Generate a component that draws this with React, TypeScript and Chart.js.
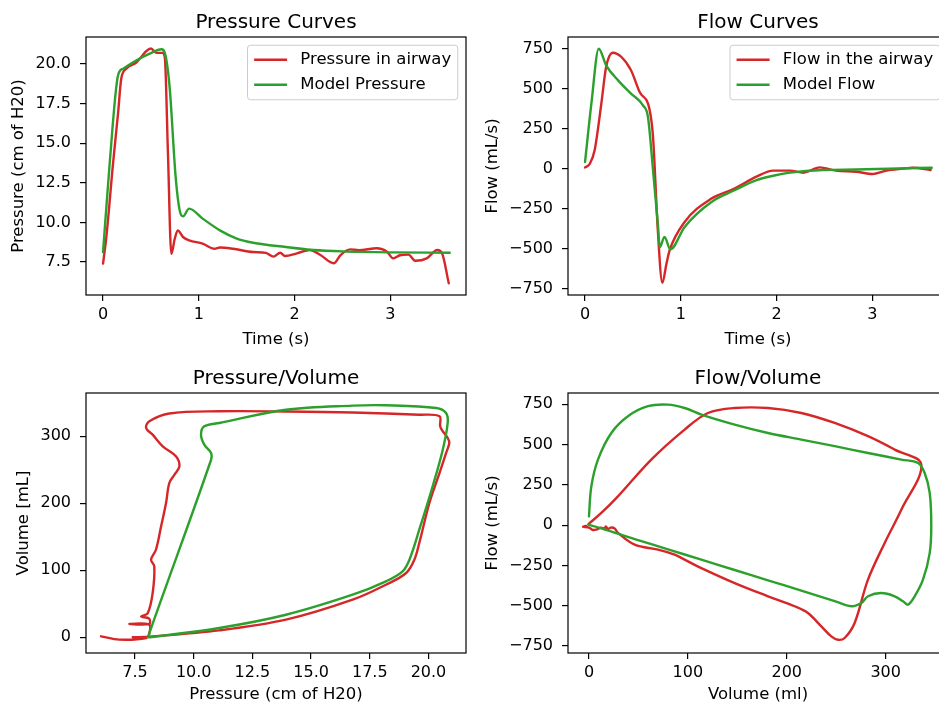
import React, { useEffect, useRef } from 'react';
import { Chart, registerables } from 'chart.js';

Chart.register(...registerables);

const FONT = "'DejaVu Sans', 'Liberation Sans', sans-serif";
const RED = '#d62728';
const GREEN = '#2ca02c';

// ---------- Pressure curves (time in s, pressure in cm H2O) ----------
const airwayPressureTime = [0, 0.035, 0.104, 0.157, 0.19, 0.243, 0.35, 0.45, 0.5, 0.56, 0.62, 0.645, 0.678, 0.713, 0.75, 0.78, 0.835, 0.9, 1.04, 1.165, 1.22, 1.357, 1.566, 1.7, 1.78, 1.85, 1.9, 2.025, 2.16, 2.27, 2.41, 2.48, 2.58, 2.67, 2.86, 2.965, 3.03, 3.1, 3.19, 3.26, 3.38, 3.49, 3.54, 3.61];
const airwayPressure = [7.4, 9.1, 13.7, 16.9, 19.07, 19.7, 20.1, 20.8, 20.97, 20.7, 20.7, 20.4, 14.3, 8.02, 9.0, 9.5, 9.08, 8.87, 8.66, 8.34, 8.42, 8.34, 8.13, 8.08, 7.84, 8.09, 7.88, 8.05, 8.26, 7.94, 7.42, 7.94, 8.3, 8.25, 8.37, 8.15, 7.73, 7.93, 7.97, 7.58, 7.73, 8.26, 8.05, 6.16];
const modelPressureTime = [0, 0.069, 0.157, 0.21, 0.35, 0.487, 0.61, 0.645, 0.695, 0.758, 0.8, 0.835, 0.898, 1.04, 1.22, 1.39, 1.566, 1.91, 2.2, 2.5, 3.0, 3.62];
const modelPressure = [8.13, 13.7, 19.29, 19.7, 20.23, 20.65, 20.93, 20.7, 18.55, 12.87, 10.76, 10.38, 10.87, 10.24, 9.5, 9.0, 8.72, 8.45, 8.26, 8.17, 8.11, 8.09];

// ---------- Flow curves (time in s, flow in mL/s) ----------
const airwayFlowTime = [0, 0.05, 0.1, 0.17, 0.22, 0.29, 0.38, 0.48, 0.57, 0.675, 0.71, 0.76, 0.807, 0.85, 0.883, 1.04, 1.32, 1.56, 1.79, 1.965, 2.14, 2.28, 2.45, 2.62, 2.83, 3.0, 3.15, 3.32, 3.42, 3.61];
const airwayFlow = [10, 33, 117, 408, 637, 727, 700, 617, 481, 367, 200, -383, -712, -592, -508, -331, -185, -123, -48, -10, -10, -23, 10, -10, -17, -31, -10, 2, 8, -6];
const modelFlowTime = [0, 0.066, 0.143, 0.22, 0.345, 0.48, 0.605, 0.657, 0.71, 0.76, 0.78, 0.83, 0.89, 1.04, 1.32, 1.56, 1.79, 1.965, 2.14, 2.48, 2.83, 3.17, 3.62];
const modelFlow = [44, 408, 752, 648, 554, 471, 398, 325, -8, -342, -488, -425, -502, -362, -206, -133, -69, -42, -23, -6, -3, 2, 8];

// ---------- Pressure / Volume loops ----------
const pvAirwayPressure = [7.4, 8.1, 11.09, 13.93, 16.77, 18.19, 19.05, 19.4, 19.61, 20.04, 20.47, 20.75, 20.89, 20.82, 20.61, 20.5, 20.47, 19.61, 16.77, 13.93, 11.09, 8.96, 8.11, 7.97, 8.25, 8.68, 9.25, 9.39, 9.18, 8.96, 8.82, 8.61, 8.39, 8.18, 8.32, 8.25, 8.04, 7.76, 8.1, 8.1, 7.26, 8.1, 8.11, 7.97, 6.83, 6.05];
const pvAirwayVolume = [0, 1, 10.4, 26.3, 56.1, 78.5, 96, 115.8, 140.7, 200.4, 245, 275, 290, 297.5, 307.5, 315, 330, 332.2, 335.5, 337, 337.3, 334, 322.4, 312.4, 302.4, 285, 270, 255, 242.7, 230.3, 200.4, 165.7, 130.7, 115.8, 106, 66, 36, 31, 28, 20, 20, 19, 6.4, -1, -3.5, 1.5];
const pvModelPressure = [8.13, 11.09, 13.93, 16.77, 18.19, 18.9, 19.19, 19.61, 20.18, 20.61, 20.82, 20.75, 20.33, 18.19, 16.77, 13.93, 11.09, 10.45, 10.31, 10.45, 10.74, 10.74, 8.11, 8.09];
const pvModelVolume = [0, 13.9, 33.7, 63.6, 83.6, 98.5, 115.8, 160.6, 225.4, 280, 319.9, 334.8, 342.2, 346.3, 345.8, 339.7, 319.9, 314.9, 302.4, 287.5, 275, 265, 6.4, 0];

// ---------- Flow / Volume loops ----------
const fvAirwayVolume = [0, 12.5, 29.3, 63, 96.7, 120.3, 147.3, 181, 214.7, 248.4, 282.1, 309.1, 336, 315.8, 299, 282.1, 268.6, 258.5, 251.8, 245, 234.9, 221.4, 208, 181, 147.3, 113.6, 96.7, 86.6, 69.8, 46.2, 29.3, 25.9, 22, 19.2, 17, 15.8, 12, 9, 4, 0, -6, -3];
const fvAirwayFlow = [10, 76, 179, 407, 593, 696, 727, 727, 696, 634, 552, 469, 376, 96, -110, -338, -607, -700, -711, -690, -628, -545, -503, -441, -359, -266, -214, -183, -152, -121, -48, -20, -15, -24, -8, -20, -15, -24, -30, -15, -10, -5];
const fvModelVolume = [0, 2.4, 9.1, 22.6, 39.4, 59.7, 79.9, 96.7, 113.6, 147.3, 181, 214.7, 248.4, 282.1, 315.8, 332.7, 339.4, 344.5, 346.1, 344.5, 337.7, 329.3, 322.5, 317.5, 309.1, 295.6, 282.1, 275.4, 265.2, 248.4, 214.7, 181, 147.3, 113.6, 79.9, 46.2, 12.5, -1];
const fvModelFlow = [55, 241, 407, 572, 676, 738, 748, 727, 686, 624, 572, 531, 490, 448, 407, 386, 324, 200, -7, -173, -338, -441, -493, -472, -441, -421, -441, -483, -503, -471, -406, -342, -278, -214, -150, -86, -20, 3];

// ---------- Tick values and labels ----------
const timeTicks = [0, 1, 2, 3];
const timeTickLabels = ['0', '1', '2', '3'];
const pressureTicks = [7.5, 10, 12.5, 15, 17.5, 20];
const pressureTickLabels = ['7.5', '10.0', '12.5', '15.0', '17.5', '20.0'];
const flowTicks = [-750, -500, -250, 0, 250, 500, 750];
const flowTickLabels = ['\u2212750', '\u2212500', '\u2212250', '0', '250', '500', '750'];
const volumeTicks = [0, 100, 200, 300];
const volumeTickLabels = ['0', '100', '200', '300'];

type Pt = { x: number; y: number };
const zip = (xs: number[], ys: number[]): Pt[] => xs.map((x, i) => ({ x, y: ys[i] }));

interface Series { label: string; color: string; data: Pt[]; order: number }
interface PanelSpec {
  key: string;
  canvas: { left: number; top: number; width: number; height: number };
  area: { l: number; t: number; r: number; b: number };
  title: string;
  titleBaseline: number;
  xLabel: string;
  yLabel: string;
  xLabelY: number;
  yLabelX: number;
  xRange: [number, number];
  yRange: [number, number];
  xTicks: number[];
  xTickLabels: string[];
  yTicks: number[];
  yTickLabels: string[];
  series: Series[];
  legend: boolean;
  monotone: boolean;
}

const TICK_SIZE = 16;
const LABEL_SIZE = 16.5;
const TITLE_SIZE = 20;
const LEGEND_SIZE = 16.5;
const LINE_W = 2.4;

const panels: PanelSpec[] = [
  {
    key: 'pressure',
    canvas: { left: 0, top: 0, width: 470, height: 360 },
    area: { l: 86, t: 37, r: 466, b: 295 },
    title: 'Pressure Curves',
    titleBaseline: 27.8,
    xLabel: 'Time (s)',
    yLabel: 'Pressure (cm of H20)',
    xLabelY: 340,
    yLabelX: 18.3,
    xRange: [-0.178, 3.79],
    yRange: [5.42, 21.7],
    xTicks: timeTicks,
    xTickLabels: timeTickLabels,
    yTicks: pressureTicks,
    yTickLabels: pressureTickLabels,
    series: [
      { label: 'Pressure in airway', color: RED, data: zip(airwayPressureTime, airwayPressure), order: 1 },
      { label: 'Model Pressure', color: GREEN, data: zip(modelPressureTime, modelPressure), order: 0 },
    ],
    legend: true,
    monotone: true,
  },
  {
    key: 'flow',
    canvas: { left: 470, top: 0, width: 490, height: 360 },
    area: { l: 568, t: 37, r: 948, b: 295 },
    title: 'Flow Curves',
    titleBaseline: 27.8,
    xLabel: 'Time (s)',
    yLabel: 'Flow (mL/s)',
    xLabelY: 340,
    yLabelX: 492.7,
    xRange: [-0.178, 3.79],
    yRange: [-787.5, 825],
    xTicks: timeTicks,
    xTickLabels: timeTickLabels,
    yTicks: flowTicks,
    yTickLabels: flowTickLabels,
    series: [
      { label: 'Flow in the airway', color: RED, data: zip(airwayFlowTime, airwayFlow), order: 1 },
      { label: 'Model Flow', color: GREEN, data: zip(modelFlowTime, modelFlow), order: 0 },
    ],
    legend: true,
    monotone: true,
  },
  {
    key: 'pv',
    canvas: { left: 0, top: 360, width: 470, height: 346 },
    area: { l: 86, t: 393, r: 466, b: 653 },
    title: 'Pressure/Volume',
    titleBaseline: 384,
    xLabel: 'Pressure (cm of H20)',
    yLabel: 'Volume [mL]',
    xLabelY: 695,
    yLabelX: 23.3,
    xRange: [5.41, 21.6],
    yRange: [-23.4, 364.6],
    xTicks: pressureTicks,
    xTickLabels: pressureTickLabels,
    yTicks: volumeTicks,
    yTickLabels: volumeTickLabels,
    series: [
      { label: 'Pressure in airway', color: RED, data: zip(pvAirwayPressure, pvAirwayVolume), order: 1 },
      { label: 'Model Pressure', color: GREEN, data: zip(pvModelPressure, pvModelVolume), order: 0 },
    ],
    legend: false,
    monotone: false,
  },
  {
    key: 'fv',
    canvas: { left: 470, top: 360, width: 490, height: 346 },
    area: { l: 568, t: 393, r: 948, b: 653 },
    title: 'Flow/Volume',
    titleBaseline: 384,
    xLabel: 'Volume (ml)',
    yLabel: 'Flow (mL/s)',
    xLabelY: 695,
    yLabelX: 492.7,
    xRange: [-21.2, 363],
    yRange: [-793, 820],
    xTicks: volumeTicks,
    xTickLabels: volumeTickLabels,
    yTicks: flowTicks,
    yTickLabels: flowTickLabels,
    series: [
      { label: 'Flow in the airway', color: RED, data: zip(fvAirwayVolume, fvAirwayFlow), order: 1 },
      { label: 'Model Flow', color: GREEN, data: zip(fvModelVolume, fvModelFlow), order: 0 },
    ],
    legend: false,
    monotone: false,
  },
];

function buildConfig(spec: PanelSpec): any {
  const c = spec.canvas;
  const labelLH = LABEL_SIZE * 1.2;
  const xBottom = spec.xLabelY + labelLH / 2;
  const padTop = spec.area.t - c.top;
  const padRight = c.left + c.width - spec.area.r;
  const padBottom = c.top + c.height - xBottom;
  const xAxisH = xBottom - spec.area.b;
  const yAxisW = spec.area.l - c.left;
  const yTitlePad = spec.yLabelX - c.left - labelLH / 2;

  const tickFont = { family: FONT, size: TICK_SIZE };
  const labelFont = { family: FONT, size: LABEL_SIZE };
  const gridOpts = { drawOnChartArea: false, drawTicks: true, tickLength: 6, color: '#000', lineWidth: 1.2 };

  const framePlugin = {
    id: 'frame_' + spec.key,
    afterDatasetsDraw(chart: any) {
      const { ctx, chartArea } = chart;
      ctx.save();
      ctx.strokeStyle = '#000';
      ctx.lineWidth = 1.2;
      ctx.strokeRect(chartArea.left, chartArea.top, chartArea.right - chartArea.left, chartArea.bottom - chartArea.top);
      ctx.restore();
    },
  };

  const titlePlugin = {
    id: 'ttl_' + spec.key,
    afterDraw(chart: any) {
      const { ctx, chartArea } = chart;
      ctx.save();
      ctx.font = `${TITLE_SIZE}px ${FONT}`;
      ctx.fillStyle = '#000';
      ctx.textAlign = 'center';
      ctx.textBaseline = 'alphabetic';
      ctx.fillText(spec.title, (chartArea.left + chartArea.right) / 2, spec.titleBaseline - c.top);
      ctx.restore();
    },
  };

  const legendPlugin = {
    id: 'lgd_' + spec.key,
    afterDatasetsDraw(chart: any) {
      if (!spec.legend) return;
      const { ctx, chartArea } = chart;
      const fs = LEGEND_SIZE;
      ctx.save();
      ctx.font = `${fs}px ${FONT}`;
      const textW = Math.max(...spec.series.map((s) => ctx.measureText(s.label).width));
      const pad = 0.4 * fs;
      const handle = 2 * fs;
      const htp = 0.8 * fs;
      const w = pad + handle + htp + textW + pad;
      const h = 54.5;
      const right = chartArea.right - 0.5 * fs;
      const top = chartArea.top + 0.5 * fs;
      const left = right - w;
      const r = 3;
      ctx.beginPath();
      ctx.moveTo(left + r, top);
      ctx.lineTo(right - r, top);
      ctx.arcTo(right, top, right, top + r, r);
      ctx.lineTo(right, top + h - r);
      ctx.arcTo(right, top + h, right - r, top + h, r);
      ctx.lineTo(left + r, top + h);
      ctx.arcTo(left, top + h, left, top + h - r, r);
      ctx.lineTo(left, top + r);
      ctx.arcTo(left, top, left + r, top, r);
      ctx.closePath();
      ctx.fillStyle = 'rgba(255,255,255,0.8)';
      ctx.fill();
      ctx.strokeStyle = '#cccccc';
      ctx.lineWidth = 1;
      ctx.stroke();
      spec.series.forEach((s, i) => {
        const cy = top + 14.5 + i * 25;
        ctx.beginPath();
        ctx.moveTo(left + pad, cy);
        ctx.lineTo(left + pad + handle, cy);
        ctx.strokeStyle = s.color;
        ctx.lineWidth = LINE_W;
        ctx.stroke();
        ctx.fillStyle = '#000';
        ctx.textAlign = 'left';
        ctx.textBaseline = 'middle';
        ctx.fillText(s.label, left + pad + handle + htp, cy);
      });
      ctx.restore();
    },
  };

  return {
    type: 'line',
    data: {
      datasets: spec.series.map((s) => ({
        label: s.label,
        data: s.data,
        borderColor: s.color,
        backgroundColor: s.color,
        borderWidth: LINE_W,
        borderJoinStyle: 'round',
        borderCapStyle: 'round',
        pointRadius: 0,
        fill: false,
        order: s.order,
        tension: spec.monotone ? 0 : 0.35,
        cubicInterpolationMode: spec.monotone ? 'monotone' : 'default',
      })),
    },
    options: {
      animation: false,
      responsive: false,
      maintainAspectRatio: false,
      devicePixelRatio: 1,
      layout: { padding: { left: 0, top: padTop, right: padRight, bottom: padBottom } },
      plugins: { legend: { display: false }, tooltip: { enabled: false }, title: { display: false } },
      scales: {
        x: {
          type: 'linear',
          min: spec.xRange[0],
          max: spec.xRange[1],
          afterBuildTicks: (scale: any) => {
            scale.ticks = spec.xTicks.map((v) => ({ value: v }));
          },
          afterFit: (scale: any) => {
            scale.height = xAxisH;
          },
          ticks: {
            callback: (_v: any, i: number) => spec.xTickLabels[i],
            font: tickFont,
            color: '#000',
            padding: 4.4,
            maxRotation: 0,
            autoSkip: false,
          },
          grid: gridOpts,
          border: { display: false },
          title: { display: true, text: spec.xLabel, font: labelFont, color: '#000', padding: { top: 0, bottom: 0 } },
        },
        y: {
          type: 'linear',
          min: spec.yRange[0],
          max: spec.yRange[1],
          afterBuildTicks: (scale: any) => {
            scale.ticks = spec.yTicks.map((v) => ({ value: v }));
          },
          afterFit: (scale: any) => {
            scale.width = yAxisW;
          },
          ticks: {
            callback: (_v: any, i: number) => spec.yTickLabels[i],
            font: tickFont,
            color: '#000',
            padding: 9,
            autoSkip: false,
          },
          grid: gridOpts,
          border: { display: false },
          title: { display: true, text: spec.yLabel, font: labelFont, color: '#000', padding: { top: yTitlePad, bottom: 0 } },
        },
      },
    },
    plugins: [framePlugin, legendPlugin, titlePlugin],
  };
}

function Panel({ spec }: { spec: PanelSpec }) {
  const ref = useRef<HTMLCanvasElement | null>(null);
  useEffect(() => {
    if (!ref.current) return;
    const chart = new Chart(ref.current, buildConfig(spec));
    return () => chart.destroy();
  }, [spec]);
  const c = spec.canvas;
  return (
    <div style={{ position: 'absolute', left: c.left, top: c.top, width: c.width, height: c.height }}>
      <canvas ref={ref} width={c.width} height={c.height} style={{ display: 'block', width: c.width, height: c.height }} />
    </div>
  );
}

export default function App() {
  return (
    <div
      style={{
        position: 'absolute',
        left: 0,
        top: 0,
        width: 939,
        height: 706,
        overflow: 'hidden',
        background: '#ffffff',
      }}
    >
      {panels.map((p) => (
        <Panel key={p.key} spec={p} />
      ))}
    </div>
  );
}
